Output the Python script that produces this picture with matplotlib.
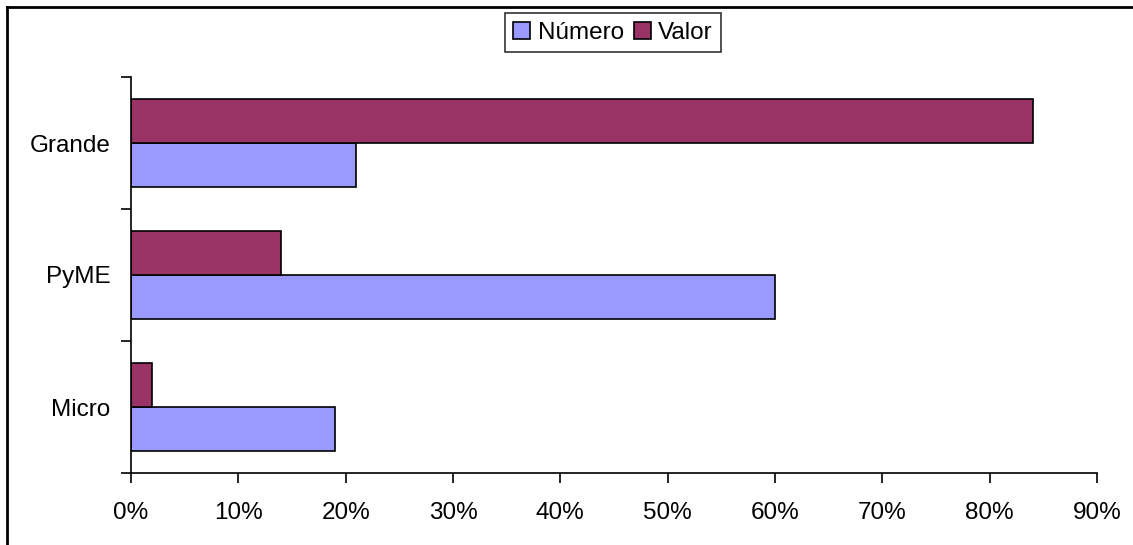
import numpy as np
import matplotlib.pyplot as plt
from matplotlib.lines import Line2D
from matplotlib.ticker import FuncFormatter, FixedLocator

plt.rcParams['font.family'] = ['Liberation Sans', 'DejaVu Sans']

categorias = ['Micro', 'PyME', 'Grande']
numero = [19.0, 60.0, 21.0]
valor = [2.0, 14.0, 84.0]

color_numero = '#9999FF'
color_valor = '#993366'

fig = plt.figure(figsize=(11.33, 5.45), dpi=100)
ax = fig.add_axes([131 / 1133, 1 - 473 / 545, (1097 - 131) / 1133, (473 - 77) / 545])

y = np.arange(len(categorias))
h = 1 / 3
ax.barh(y - h / 2, numero, height=h, color=color_numero, edgecolor='black', linewidth=1.2, label='Número')
ax.barh(y + h / 2, valor, height=h, color=color_valor, edgecolor='black', linewidth=1.2, label='Valor')

ax.set_xlim(0, 90)
ax.set_ylim(-0.5, 2.5)
ax.set_xticks(np.arange(0, 91, 10))
ax.xaxis.set_major_formatter(FuncFormatter(lambda v, p: f'{v:.0f}%'))
ax.yaxis.set_major_locator(FixedLocator([-0.5, 0.5, 1.5, 2.5]))
ax.yaxis.set_minor_locator(FixedLocator(y))
ax.set_yticklabels([], minor=False)
ax.set_yticklabels(categorias, minor=True)

ax.tick_params(axis='x', direction='out', length=7, width=1.2, labelsize=17.5, pad=14)
ax.tick_params(axis='y', which='major', direction='out', length=7, width=1.2)
ax.tick_params(axis='y', which='minor', length=0, labelsize=17.5, pad=15)

for s in ['top', 'right']:
    ax.spines[s].set_visible(False)
for s in ['left', 'bottom']:
    ax.spines[s].set_linewidth(1.2)

# marco exterior del gráfico
fig.add_artist(Line2D([7 / 1133, 7 / 1133], [0, 1 - 7 / 545], transform=fig.transFigure, color='black', lw=2))
fig.add_artist(Line2D([7 / 1133, 1], [1 - 7 / 545, 1 - 7 / 545], transform=fig.transFigure, color='black', lw=2))

leg = fig.legend(loc='upper center', bbox_to_anchor=(613 / 1133, 1 - 13 / 545), ncol=2,
                 fontsize=17.5, frameon=True, fancybox=False, handlelength=0.7, handleheight=0.7,
                 handletextpad=0.3, columnspacing=0.4, borderpad=0.35, borderaxespad=0)
leg.get_frame().set_edgecolor('black')
leg.get_frame().set_linewidth(1.2)

fig.savefig('out.png', dpi=100)
